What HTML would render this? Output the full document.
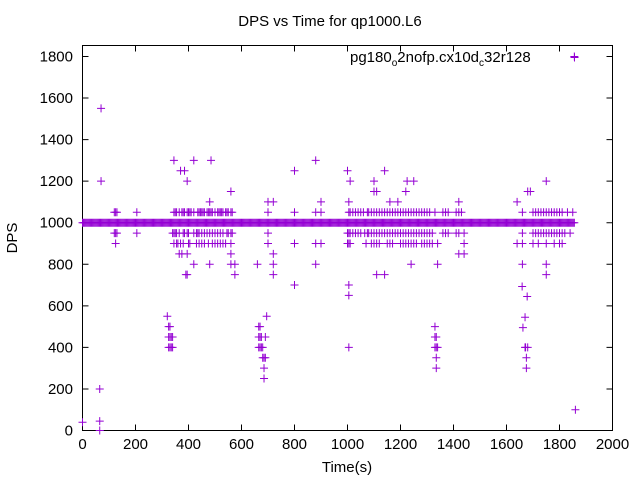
<!DOCTYPE html>
<html><head><meta charset="utf-8"><style>
body{margin:0;background:#fff;}
svg{display:block;font-family:"Liberation Sans",sans-serif;}
</style></head><body>
<svg id="chart" width="640" height="480" viewBox="0 0 640 480">
<text x="330" y="26" font-size="15" text-anchor="middle">DPS vs Time for qp1000.L6</text>
<text transform="translate(17,238) rotate(-90)" font-size="15" text-anchor="middle">DPS</text>
<text x="347" y="472" font-size="15" text-anchor="middle">Time(s)</text>
<g id="axes"></g>
<g id="marks" stroke="#9400d3" stroke-width="1" fill="none"></g>
<text x="350" y="62" font-size="15">pg180<tspan font-size="10" dy="4">o</tspan><tspan dy="-4">2nofp.cx10d</tspan><tspan font-size="10" dy="4">c</tspan><tspan dy="-4">32r128</tspan></text>
<path d="M570.5 57.5h8M574.5 53.5v8" stroke="#9400d3" stroke-width="1"/>
</svg>
<script>
const xTicks=[0,200,400,600,800,1000,1200,1400,1600,1800,2000];
const yTicks=[0,200,400,600,800,1000,1200,1400,1600,1800];
const band1000Start=0, band1000End=1858;
const t1050=[120,125,130,205,345,350,355,365,375,380,385,395,400,405,410,420,435,440,445,450,455,460,470,475,480,485,490,500,510,515,520,525,530,540,545,550,560,565,700,800,880,900,1005,1010,1020,1030,1040,1050,1060,1075,1080,1090,1100,1110,1120,1130,1140,1150,1160,1170,1180,1190,1200,1210,1220,1230,1240,1250,1260,1270,1280,1290,1300,1310,1330,1360,1370,1380,1410,1420,1430,1700,1710,1720,1730,1740,1750,1760,1770,1780,1790,1800,1810,1830,1850];
const t950=[120,125,130,205,340,345,350,355,365,380,385,395,400,420,430,435,440,450,460,470,480,490,500,510,520,530,545,550,560,565,700,1000,1005,1010,1020,1030,1040,1050,1065,1075,1080,1090,1100,1110,1120,1130,1140,1150,1160,1170,1180,1190,1200,1210,1220,1230,1240,1250,1260,1270,1280,1290,1300,1310,1320,1360,1370,1380,1410,1420,1440,1660,1700,1710,1720,1730,1740,1750,1760,1770,1780,1790,1800,1810,1820,1840];
const t900=[125,345,355,360,370,380,400,405,430,440,450,460,475,490,500,510,520,530,540,560,700,800,880,900,1000,1005,1010,1070,1090,1100,1110,1120,1150,1160,1170,1200,1210,1220,1230,1240,1250,1260,1280,1290,1300,1310,1320,1340,1440,1640,1660,1700,1720,1750,1780,1800,1810];
const outT=[0,65,65,65,70,70,345,370,385,395,420,485,480,560,575,575,560,395,390,375,365,395,420,480,560,660,700,720,720,720,720,800,800,880,880,900,1000,1005,1005,1005,1010,1005,1100,1100,1110,1140,1110,1140,1160,1190,1220,1225,1250,1240,1340,1420,1420,1440,1640,1660,1660,1659,1678,1680,1690,1750,1750,1750,1856,1860,
320,325,330,325,330,335,340,325,330,335,340,665,670,665,670,675,665,670,675,680,680,685,690,685,685,695,690,1330,1330,1335,1330,1335,1340,1335,1335,1662,1670,1672,1675,1675,1670,1680];
const outV=[40,45,0,200,1200,1550,1300,1250,1250,1200,1300,1300,1100,1150,750,800,850,750,750,850,850,850,800,800,800,800,1100,1100,850,800,750,700,1250,1300,800,1100,1250,650,700,400,1200,1100,1150,1200,1150,1250,750,750,1100,1100,1150,1200,1200,800,800,1100,850,850,1100,1050,800,693,645,1150,1150,1200,800,750,1800,100,
550,500,500,450,450,450,450,400,400,400,400,500,500,450,450,450,400,400,400,400,350,350,350,300,250,550,450,500,450,450,400,400,400,350,300,495,545,400,350,300,400,400];
const NS='http://www.w3.org/2000/svg';
const X=t=>82.5+t*0.265;
const Y=v=>430.5-v*0.2078;
const axes=document.getElementById('axes');
const marks=document.getElementById('marks');
function line(p,d,sw){const e=document.createElementNS(NS,'path');e.setAttribute('d',d);e.setAttribute('stroke','#000');e.setAttribute('stroke-width',sw||1);e.setAttribute('fill','none');p.appendChild(e);return e;}
const frame=line(axes,`M82.5 45.5H612.5V430.5H82.5Z`,1);


xTicks.forEach(t=>{const x=X(t);
const tk=line(axes,`M${x} 430.5v-6M${x} 45.5v6`);


const tx=document.createElementNS(NS,'text');tx.setAttribute('x',x);tx.setAttribute('y',449);tx.setAttribute('font-size','15');tx.setAttribute('text-anchor','middle');tx.textContent=t;


axes.appendChild(tx);});
yTicks.forEach(v=>{const y=Y(v);
const tk=line(axes,`M82.5 ${y}h6M612.5 ${y}h-6`);


const tx=document.createElementNS(NS,'text');tx.setAttribute('x',73);tx.setAttribute('y',y+5);tx.setAttribute('font-size','15');tx.setAttribute('text-anchor','end');tx.textContent=v;


axes.appendChild(tx);});
function cross(t,v){const x=X(t),y=Y(v);const e=document.createElementNS(NS,'path');e.setAttribute('d',`M${x-4} ${y}h8M${x} ${y-4}v8`);


marks.appendChild(e);}
for(let t=band1000Start;t<=band1000End;t+=4)cross(t,1000);
t1050.forEach(t=>cross(t,1050));
t950.forEach(t=>cross(t,950));
t900.forEach(t=>cross(t,900));
outT.forEach((t,i)=>cross(t,outV[i]));
</script>
</body></html>
